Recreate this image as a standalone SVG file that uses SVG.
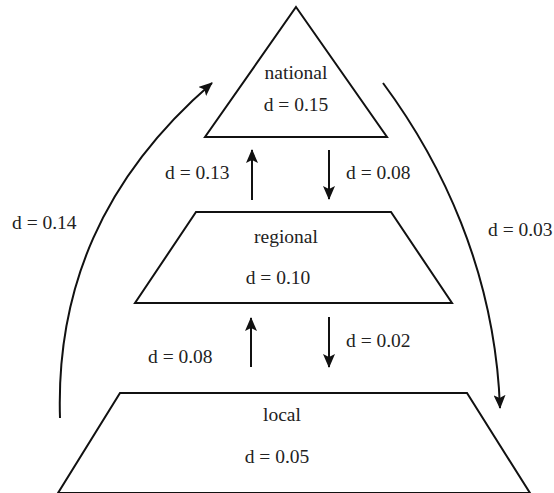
<svg xmlns="http://www.w3.org/2000/svg" width="554" height="493" viewBox="0 0 554 493">
<defs>
<marker id="ah" viewBox="0 0 14 12" refX="13" refY="6" markerWidth="14" markerHeight="12" markerUnits="userSpaceOnUse" orient="auto">
<path d="M0,0 L14,6 L0,12 L3,6 Z" fill="#111"/>
</marker>
<style>
.shape{fill:#fff;stroke:#111;stroke-width:2;stroke-linejoin:miter}
.conn{fill:none;stroke:#111;stroke-width:2}
text{font-family:"Liberation Serif","Times New Roman",serif;font-size:19.5px;fill:#222}
.c{text-anchor:middle}
</style>
</defs>
<rect width="554" height="493" fill="#fff"/>
<g id="national">
<polygon class="shape" points="296,7 387,137 205,137"/>
<text class="c" x="296" y="79">national</text>
<text class="c" x="296" y="111">d = 0.15</text>
</g>
<g id="regional">
<polygon class="shape" points="196,212 391,212 452,303 135,303"/>
<text class="c" x="286" y="243">regional</text>
<text class="c" x="278" y="284">d = 0.10</text>
</g>
<g id="local">
<polygon class="shape" points="120,393 467,393 530,493 58,493"/>
<text class="c" x="282" y="421">local</text>
<text class="c" x="277" y="463">d = 0.05</text>
</g>
<g id="connectors">
<line class="conn" x1="252" y1="200" x2="252" y2="150" marker-end="url(#ah)"/>
<line class="conn" x1="329" y1="150" x2="329" y2="199" marker-end="url(#ah)"/>
<line class="conn" x1="251" y1="367" x2="251" y2="318" marker-end="url(#ah)"/>
<line class="conn" x1="329" y1="317" x2="329" y2="367" marker-end="url(#ah)"/>
<path class="conn" d="M60,418 C56,290 102,178 212,83" marker-end="url(#ah)"/>
<path class="conn" d="M383,83 C440,160 495,270 500,408" marker-end="url(#ah)"/>
</g>
<g id="labels">
<text x="165" y="179">d = 0.13</text>
<text x="346" y="179">d = 0.08</text>
<text x="148" y="363">d = 0.08</text>
<text x="346" y="347">d = 0.02</text>
<text x="12" y="229">d = 0.14</text>
<text x="488" y="236">d = 0.03</text>
</g>
</svg>
